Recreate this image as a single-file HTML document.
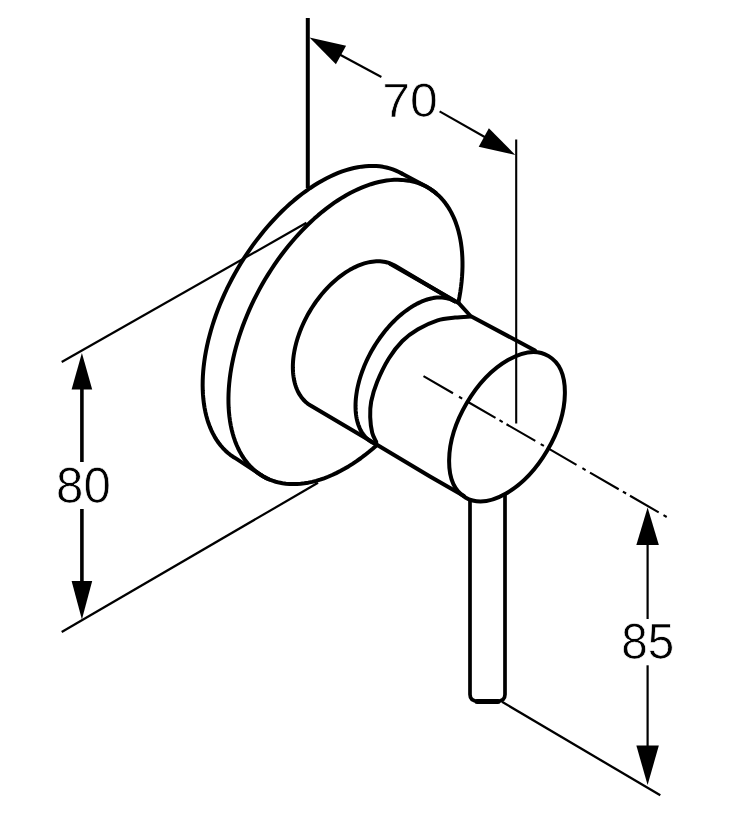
<!DOCTYPE html>
<html><head><meta charset="utf-8"><title>Dimension drawing</title>
<style>
html,body{margin:0;padding:0;background:#fff;}
body{width:736px;height:820px;overflow:hidden;font-family:"Liberation Sans",sans-serif;}
svg{display:block;will-change:transform;}
</style></head><body>
<svg width="736" height="820" viewBox="0 0 736 820">
<rect width="736" height="820" fill="#fff"/>
<g fill="none" stroke="#000" stroke-linecap="round" stroke-linejoin="round" stroke-width="4.0">
<path d="M401.77 173.56 L398.89 172.00 L395.91 170.61 L392.83 169.40 L389.67 168.37 L386.42 167.51 L383.08 166.84 L379.67 166.35 L376.19 166.04 L372.63 165.92 L369.01 165.98 L365.33 166.22 L361.59 166.64 L357.80 167.24 L353.96 168.03 L350.07 168.99 L346.15 170.14 L342.20 171.46 L338.22 172.96 L334.21 174.64 L330.19 176.48 L326.15 178.50 L322.10 180.68 L318.05 183.03 L314.00 185.54 L309.95 188.21 L305.92 191.03 L301.90 194.01 L297.90 197.13 L293.93 200.40 L289.98 203.81 L286.08 207.36 L282.21 211.04 L278.39 214.85 L274.61 218.78 L270.89 222.83 L267.23 226.99 L263.63 231.26 L260.10 235.64 L256.64 240.11 L253.25 244.68 L249.95 249.33 L246.72 254.06 L243.59 258.87 L240.55 263.75 L237.60 268.69 L234.75 273.69 L232.01 278.74 L229.37 283.84 L226.83 288.97 L224.42 294.14 L222.11 299.34 L219.92 304.55 L217.86 309.78 L215.91 315.02 L214.10 320.25 L212.41 325.49 L210.84 330.71 L209.42 335.91 L208.12 341.09 L206.96 346.24 L205.93 351.35 L205.04 356.42 L204.29 361.44 L203.68 366.40 L203.21 371.31 L202.89 376.14 L202.70 380.90 L202.65 385.59 L202.75 390.18 L202.98 394.69 L203.36 399.10 L203.88 403.41 L204.53 407.62 L205.33 411.71 L206.27 415.68 L207.34 419.54 L208.55 423.27 L209.89 426.86 L211.36 430.33 L212.97 433.65 L214.70 436.83 L216.56 439.86 L218.55 442.74 L220.66 445.47 L222.88 448.04 L225.23 450.45 L227.69 452.69 L230.25 454.77 L232.93 456.68 L235.71 458.42 L263.36 476.54 L266.32 478.11 L269.38 479.50 L272.53 480.70 L275.77 481.73 L279.10 482.57 L282.50 483.23 L285.98 483.71 L289.54 484.00 L293.16 484.10 L296.85 484.02 L300.60 483.75 L304.40 483.30 L308.25 482.66 L312.15 481.84 L316.09 480.84 L320.06 479.66 L324.06 478.29 L328.09 476.75 L332.15 475.03 L336.21 473.14 L340.29 471.07 L344.38 468.83 L348.47 466.43 L352.55 463.86 L356.62 461.14 L360.69 458.25 L364.73 455.21 L368.75 452.02 L372.74 448.69 L376.70 445.21"/>
<path d="M458.40 302.42 L459.41 297.17 L460.29 291.96 L461.02 286.81 L461.60 281.71 L462.04 276.67 L462.34 271.70 L462.49 266.80 L462.49 261.99 L462.35 257.27 L462.07 252.63 L461.63 248.10 L461.06 243.67 L460.34 239.35 L459.47 235.15 L458.46 231.06 L457.32 227.11 L456.03 223.28 L454.61 219.59 L453.05 216.03 L451.35 212.63 L449.53 209.37 L447.57 206.26 L445.49 203.31 L443.28 200.53 L440.95 197.90 L438.50 195.44 L435.94 193.15 L433.26 191.04 L430.47 189.10 L427.58 187.34 L401.77 173.56"/>
<path d="M269.38 479.49 L266.32 478.11 L263.36 476.54 L260.50 474.80 L257.74 472.89 L255.09 470.80 L252.55 468.54 L250.12 466.12 L247.81 463.54 L245.62 460.79 L243.55 457.89 L241.60 454.83 L239.78 451.62 L238.09 448.27 L236.53 444.78 L235.11 441.15 L233.81 437.38 L232.66 433.49 L231.64 429.47 L230.76 425.34 L230.02 421.09 L229.42 416.73 L228.96 412.27 L228.64 407.71 L228.47 403.06 L228.44 398.32 L228.55 393.50 L228.80 388.61 L229.20 383.65 L229.73 378.62 L230.41 373.54 L231.23 368.40 L232.19 363.23 L233.28 358.01 L234.51 352.76 L235.88 347.49 L237.38 342.20 L239.01 336.89 L240.78 331.58 L242.67 326.27 L244.68 320.97 L246.82 315.68 L249.08 310.41 L251.45 305.17 L253.94 299.96 L256.54 294.78 L259.25 289.66 L262.07 284.58 L264.98 279.56 L268.00 274.61 L271.11 269.72 L274.31 264.92 L277.59 260.19 L280.96 255.55 L284.41 251.00 L287.93 246.56 L291.52 242.21 L295.18 237.98 L298.90 233.86 L302.68 229.86 L306.50 225.98 L310.38 222.24 L314.30 218.62 L318.25 215.15 L322.24 211.82 L326.26 208.63 L330.30 205.59 L334.36 202.71 L338.43 199.99 L342.52 197.42 L346.60 195.02 L350.68 192.79 L354.76 190.73 L358.83 188.83 L362.88 187.12 L366.91 185.58 L370.91 184.21 L374.88 183.03 L378.82 182.03 L382.71 181.21 L386.56 180.58 L390.36 180.13 L394.11 179.86 L397.79 179.78 L401.41 179.88 L404.97 180.18 L408.45 180.65 L411.85 181.31 L415.18 182.15 L418.41 183.18 L421.56 184.39 L424.62 185.77 L427.58 187.34 L430.44 189.08 L433.20 190.99 L435.85 193.08"/>
<path d="M454.69 301.30 L395.10 265.83 L393.61 264.98 L392.06 264.22 L390.47 263.54 L388.84 262.95 L387.15 262.44 L385.43 262.03 L383.67 261.71 L381.87 261.47 L380.03 261.33 L378.16 261.27 L376.26 261.31 L374.33 261.44 L372.37 261.66 L370.39 261.96 L368.39 262.36 L366.36 262.85 L364.33 263.42 L362.27 264.09 L360.21 264.84 L358.14 265.67 L356.06 266.59 L353.97 267.60 L351.88 268.69 L349.80 269.86 L347.72 271.10 L345.64 272.43 L343.57 273.84 L341.52 275.32 L339.47 276.87 L337.45 278.50 L335.44 280.19 L333.45 281.95 L331.49 283.78 L329.55 285.67 L327.64 287.62 L325.76 289.63 L323.91 291.69 L322.10 293.81 L320.32 295.98 L318.59 298.20 L316.89 300.46 L315.24 302.77 L313.64 305.11 L312.08 307.50 L310.57 309.91 L309.12 312.36 L307.71 314.84 L306.36 317.34 L305.07 319.87 L303.84 322.41 L302.66 324.97 L301.55 327.54 L300.49 330.12 L299.50 332.71 L298.58 335.30 L297.72 337.89 L296.93 340.48 L296.21 343.06 L295.55 345.64 L294.97 348.20 L294.45 350.75 L294.01 353.27 L293.63 355.78 L293.33 358.26 L293.10 360.72 L292.95 363.14 L292.86 365.53 L292.85 367.88 L292.92 370.19 L293.05 372.47 L293.26 374.69 L293.54 376.87 L293.89 379.00 L294.31 381.07 L294.81 383.09 L295.37 385.06 L296.01 386.96 L296.71 388.80 L297.48 390.57 L298.32 392.28 L299.22 393.91 L300.19 395.48 L301.23 396.98 L302.32 398.39 L303.48 399.74 L304.70 401.00 L305.98 402.18 L307.31 403.29 L308.70 404.31 L310.14 405.25 L376.50 444.50"/>
<path d="M454.69 301.30 L453.28 300.52 L451.81 299.82 L450.30 299.22 L448.74 298.70 L447.14 298.27 L445.50 297.93 L443.81 297.69 L442.09 297.53 L440.34 297.46 L438.55 297.48 L436.73 297.59 L434.88 297.80 L433.01 298.09 L431.11 298.47 L429.19 298.94 L427.25 299.50 L425.29 300.15 L423.32 300.88 L421.34 301.71 L419.34 302.61 L417.34 303.60 L415.33 304.68 L413.32 305.83 L411.31 307.07 L409.30 308.38 L407.30 309.77 L405.30 311.24 L403.32 312.78 L401.34 314.39 L399.38 316.07 L397.44 317.82 L395.51 319.63 L393.61 321.51 L391.73 323.45 L389.87 325.45 L388.05 327.50 L386.25 329.61 L384.49 331.77 L382.77 333.98 L381.08 336.23 L379.42 338.53 L377.81 340.87 L376.25 343.24 L374.73 345.65 L373.25 348.09 L371.82 350.56 L370.45 353.06 L369.12 355.57 L367.85 358.11 L366.64 360.67 L365.48 363.23 L364.38 365.81 L363.34 368.40 L362.35 370.98 L361.44 373.57 L360.58 376.16 L359.79 378.74 L359.06 381.32 L358.40 383.88 L357.81 386.42 L357.28 388.95 L356.82 391.46 L356.43 393.94 L356.11 396.40 L355.85 398.83 L355.67 401.22 L355.56 403.57 L355.52 405.89 L355.55 408.17 L355.64 410.40 L355.81 412.59 L356.05 414.72 L356.36 416.80 L356.74 418.83 L357.18 420.80 L357.69 422.71 L358.28 424.56 L358.92 426.34 L359.64 428.06 L360.42 429.70 L361.26 431.28 L362.17 432.78 L363.14 434.21 L364.16 435.57 L365.25 436.84 L366.40 438.04 L367.61 439.16 L368.87 440.19 L370.18 441.14 L371.55 442.00 L372.96 442.78 L374.43 443.48"/>
<path d="M470.60 316.50 C468.00 316.68 460.50 316.97 455.00 317.60 C449.50 318.23 443.77 318.35 437.60 320.30 C431.43 322.25 423.87 325.85 418.00 329.30 C412.13 332.75 407.27 336.13 402.40 341.00 C397.53 345.87 393.02 351.67 388.80 358.50 C384.58 365.33 380.03 374.83 377.10 382.00 C374.17 389.17 372.35 395.65 371.20 401.50 C370.05 407.35 370.03 411.90 370.20 417.10 C370.37 422.30 371.18 428.55 372.20 432.70 C373.22 436.85 375.62 440.45 376.30 442.00"/>
<path d="M390.00 263.75 L459.00 303.30 L470.50 316.00 L535.00 350.50"/>
<path d="M376.50 444.50 L430.00 476.50 L464.00 496.00"/>
<ellipse cx="507" cy="426.8" rx="82" ry="46.7" transform="rotate(-59.5 507 426.8)"/>
<path d="M470 500 L470 694.5 Q470 701.3 478.5 701.3 L496.5 701.3 Q505 701.3 505 694.5 L505 495" stroke-width="3.7"/>
<path d="M477 701.6 L498 701.6" stroke-width="5.0"/>
</g>
<g fill="none" stroke="#000" stroke-linecap="butt">
<path d="M307.80 18.00 L307.80 188.00" stroke-width="4.0"/>
<path d="M516.20 139.40 L516.20 423.50" stroke-width="2.1"/>
<path d="M81.90 385.00 L81.90 462.00" stroke-width="3.6"/>
<path d="M81.90 509.00 L81.90 585.00" stroke-width="3.6"/>
<path d="M647.60 540.00 L647.60 619.00" stroke-width="2.2"/>
<path d="M647.60 665.30 L647.60 750.00" stroke-width="2.2"/>
<path d="M61.70 362.00 L306.50 222.80" stroke-width="2.2"/>
<path d="M61.70 632.00 L318.00 482.80" stroke-width="2.2"/>
<path d="M502.00 701.80 L660.30 795.30" stroke-width="2.3"/>
<path d="M335.00 52.00 L381.40 77.00" stroke-width="2.1"/>
<path d="M439.60 111.30 L490.00 140.00" stroke-width="2.1"/>
<path d="M423.50 376.20 L453.00 393.28 M459.00 396.75 L462.20 398.61 M468.50 402.25 L495.50 417.89 M499.50 420.20 L502.70 422.06 M506.50 424.26 L535.30 440.93 M540.70 444.06 L543.90 445.91 M549.50 449.15 L576.50 464.79 M582.40 468.20 L585.60 470.06 M590.00 472.60 L618.70 489.22 M622.90 491.65 L626.10 493.51 M630.00 495.76 L658.70 512.38 M663.50 515.16 L666.70 517.01" stroke-width="2.1"/>
</g>
<g fill="#000" stroke="none">
<path d="M309.50 37.60 L335.92 64.21 L346.08 45.84 Z"/>
<path d="M515.30 154.90 L488.88 128.29 L478.72 146.66 Z"/>
<path d="M81.90 353.00 L71.60 389.50 L92.20 389.50 Z"/>
<path d="M81.90 619.50 L92.20 581.00 L71.60 581.00 Z"/>
<path d="M647.60 507.50 L636.35 545.00 L658.85 545.00 Z"/>
<path d="M647.60 785.00 L658.85 745.50 L636.35 745.50 Z"/>
</g>
<text x="0" y="0" transform="translate(382.3 116.6) scale(1.024 1)" font-family="Liberation Sans, sans-serif" font-size="48.72" fill="#000" stroke="#fff" stroke-width="0.7">70</text>
<text x="0" y="0" transform="translate(56.1 502.66) scale(0.988 1)" font-family="Liberation Sans, sans-serif" font-size="49.8" fill="#000" stroke="#fff" stroke-width="0.7">80</text>
<text x="0" y="0" transform="translate(621.2 659.0) scale(0.948 1)" font-family="Liberation Sans, sans-serif" font-size="50.3" fill="#000" stroke="#fff" stroke-width="0.7">85</text>
</svg>
</body></html>
